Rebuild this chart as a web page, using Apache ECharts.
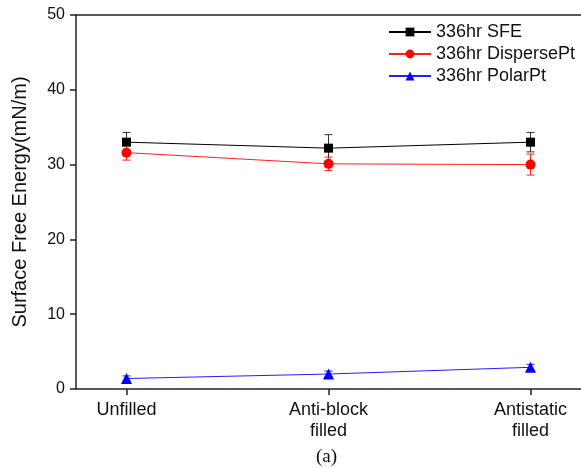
<!DOCTYPE html>
<html><head><meta charset="utf-8">
<script src="https://cdn.jsdelivr.net/npm/echarts@6/dist/echarts.min.js"></script>
<style>html,body{margin:0;padding:0;background:#fff}#c{width:581px;height:468px}</style>
</head><body><div id="c"></div>
<script>
const categories = ['Unfilled', 'Anti-block\nfilled', 'Antistatic\nfilled'];
const sfe = [33.0, 32.2, 33.0];
const sfeErr = [1.3, 1.8, 1.3];
const disperse = [31.6, 30.1, 30.0];
const disperseErr = [1.0, 0.9, 1.4];
const polar = [1.4, 2.0, 2.9];
const polarErr = [0.35, 0.4, 0.4];
const yTicks = [0, 10, 20, 30, 40, 50];
const seriesNames = ['336hr SFE', '336hr DispersePt', '336hr PolarPt'];

const FONT = 'Liberation Sans, Arial, sans-serif';
const chart = echarts.init(document.getElementById('c'));

function pts(vals) { return vals.map((v, i) => [i, v]); }
function errData(vals, errs) { return vals.map((v, i) => [i, v - errs[i], v + errs[i]]); }
function errSeries(vals, errs, color) {
  return {
    type: 'custom', silent: true, z: 1,
    data: errData(vals, errs),
    renderItem: function (params, api) {
      const x = api.value(0);
      const lo = api.coord([x, api.value(1)]);
      const hi = api.coord([x, api.value(2)]);
      const w = 4;
      const st = { stroke: color, lineWidth: 1 };
      return { type: 'group', children: [
        { type: 'line', shape: { x1: lo[0], y1: lo[1], x2: hi[0], y2: hi[1] }, style: st },
        { type: 'line', shape: { x1: lo[0] - w, y1: lo[1], x2: lo[0] + w, y2: lo[1] }, style: st },
        { type: 'line', shape: { x1: hi[0] - w, y1: hi[1], x2: hi[0] + w, y2: hi[1] }, style: st }
      ]};
    }
  };
}

const option = {
  animation: false,
  backgroundColor: '#fff',
  textStyle: { fontFamily: FONT },
  grid: { left: 76, right: -3, top: 15, bottom: 79 },
  legend: {
    orient: 'vertical', left: 388, top: 23, itemGap: 4, padding: 0,
    itemWidth: 42, itemHeight: 11,
    textStyle: { fontSize: 18, color: '#111', fontFamily: FONT },
    data: seriesNames
  },
  xAxis: [{
    type: 'value', min: -0.25, max: 2.25,
    axisLine: { show: true, onZero: false, lineStyle: { color: '#222', width: 1.5 } },
    axisTick: { show: true, length: 6, customValues: [0, 1, 2], lineStyle: { color: '#222', width: 1.5 } },
    axisLabel: { customValues: [0, 1, 2], fontSize: 18, color: '#111', margin: 11, lineHeight: 21,
      formatter: v => categories[Math.round(v)] },
    splitLine: { show: false }
  }, {
    type: 'value', position: 'top', min: -0.25, max: 2.25,
    axisLine: { show: true, onZero: false, lineStyle: { color: '#222', width: 1.5 } },
    axisTick: { show: false }, axisLabel: { show: false }, splitLine: { show: false }
  }],
  yAxis: {
    type: 'value', min: 0, max: 50, interval: 10,
    name: 'Surface Free Energy(mN/m)', nameLocation: 'middle', nameGap: 46,
    nameTextStyle: { fontSize: 20, color: '#111', fontFamily: FONT },
    axisLine: { show: true, onZero: false, lineStyle: { color: '#222', width: 1.5 } },
    axisTick: { show: true, length: 6, lineStyle: { color: '#222', width: 1.5 } },
    axisLabel: { fontSize: 16, color: '#111', margin: 11,
      formatter: v => yTicks.includes(v) ? String(v) : '' },
    splitLine: { show: false }
  },
  graphic: [{
    type: 'text', left: 316, top: 448,
    style: { text: '(a)', fontSize: 19, fontFamily: 'Liberation Serif, Times New Roman, serif', fill: '#111' }
  }],
  series: [
    errSeries(sfe, sfeErr, '#333'),
    errSeries(disperse, disperseErr, '#ff2020'),
    errSeries(polar, polarErr, '#1a1aff'),
    { name: seriesNames[0], type: 'line', data: pts(sfe), symbol: 'rect', symbolSize: 9,
      itemStyle: { color: '#000' }, lineStyle: { color: '#000', width: 1 }, z: 3 },
    { name: seriesNames[1], type: 'line', data: pts(disperse), symbol: 'circle', symbolSize: 10,
      itemStyle: { color: '#ff0000' }, lineStyle: { color: '#ff2020', width: 1 }, z: 3 },
    { name: seriesNames[2], type: 'line', data: pts(polar), symbol: 'triangle', symbolSize: 11,
      itemStyle: { color: '#0000ff' }, lineStyle: { color: '#2020ff', width: 1 }, z: 3 }
  ]
};
chart.setOption(option);
</script></body></html>
